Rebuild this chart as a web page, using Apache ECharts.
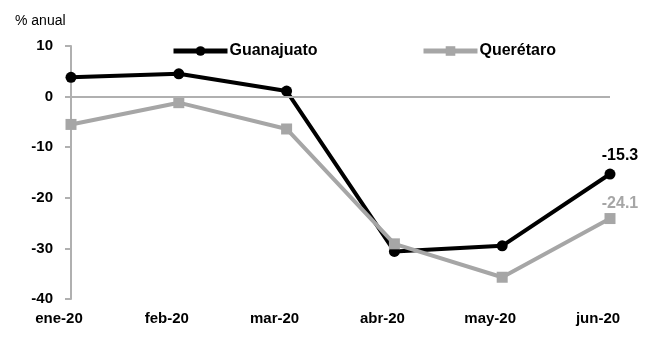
<!DOCTYPE html>
<html><head><meta charset="utf-8">
<script src="https://cdn.jsdelivr.net/npm/echarts@6/dist/echarts.min.js"></script>
<style>html,body{margin:0;padding:0;background:#fff}#c{width:646px;height:337px}</style>
</head><body><div id="c"></div>
<script>
const categories = ['ene-20','feb-20','mar-20','abr-20','may-20','jun-20'];
const guanajuato = [3.8, 4.5, 1.1, -30.6, -29.5, -15.3];
const queretaro = [-5.5, -1.2, -6.4, -29.1, -35.7, -24.1];
const yTicks = [-40, -30, -20, -10, 0, 10];

const FONT = "'Liberation Sans Narrow', 'Liberation Sans', Arial, sans-serif";
const chart = echarts.init(document.getElementById('c'));
const lastIdx = categories.length - 1;
chart.setOption({
  animation: false,
  grid: {left: 71, right: 36, top: 46, bottom: 38},
  title: {text: '% anual', left: 10, top: 9, textStyle: {fontFamily: FONT, fontSize: 14, fontWeight: 'normal', color: '#000'}},
  legend: [
    {data: [{name: 'Guanajuato', lineStyle: {width: 5}}], left: 166, top: 38, itemWidth: 54, itemHeight: 12, itemGap: 4,
     textStyle: {fontFamily: FONT, fontSize: 16, fontWeight: 'bold', color: '#000', padding: [0,0,0,-3]}},
    {data: [{name: 'Querétaro', lineStyle: {width: 5}}], left: 416, top: 38, itemWidth: 54, itemHeight: 12, itemGap: 4,
     textStyle: {fontFamily: FONT, fontSize: 16, fontWeight: 'bold', color: '#000', padding: [0,0,0,-3]}}
  ],
  xAxis: {
    type: 'category', data: categories, boundaryGap: false,
    axisLine: {show: false}, axisTick: {show: false},
    axisLabel: {fontFamily: FONT, fontSize: 15, fontWeight: 'bold', color: '#000', margin: 12, padding: [0, 24, 0, 0]}
  },
  yAxis: {
    type: 'value', min: yTicks[0], max: yTicks[yTicks.length-1], interval: 10,
    axisLine: {show: true, lineStyle: {color: '#b0b0b0', width: 2}},
    axisTick: {show: true, length: 6, lineStyle: {color: '#b0b0b0', width: 2}},
    splitLine: {show: false},
    axisLabel: {fontFamily: FONT, fontSize: 15, fontWeight: 'bold', color: '#000', margin: 18}
  },
  series: [
    {name: 'Guanajuato', type: 'line', data: guanajuato, z: 3,
     symbol: 'circle', symbolSize: 11,
     lineStyle: {color: '#000', width: 4}, itemStyle: {color: '#000'},
     label: {show: true, position: 'top', distance: 5, offset: [10, 0], fontFamily: FONT, fontSize: 16, fontWeight: 'bold', color: '#000',
       formatter: p => p.dataIndex === lastIdx ? p.value.toFixed(1) : ''},
     markLine: {silent: true, symbol: 'none', label: {show: false},
       lineStyle: {color: '#b0b0b0', width: 2, type: 'solid'}, data: [{yAxis: 0}]}
    },
    {name: 'Querétaro', type: 'line', data: queretaro, z: 4,
     symbol: 'rect', symbolSize: 11,
     lineStyle: {color: '#a6a6a6', width: 4}, itemStyle: {color: '#a6a6a6'},
     label: {show: true, position: 'top', distance: 1, offset: [10, 0], fontFamily: FONT, fontSize: 16, fontWeight: 'bold', color: '#a6a6a6',
       formatter: p => p.dataIndex === lastIdx ? p.value.toFixed(1) : ''}
    }
  ]
});
</script></body></html>
